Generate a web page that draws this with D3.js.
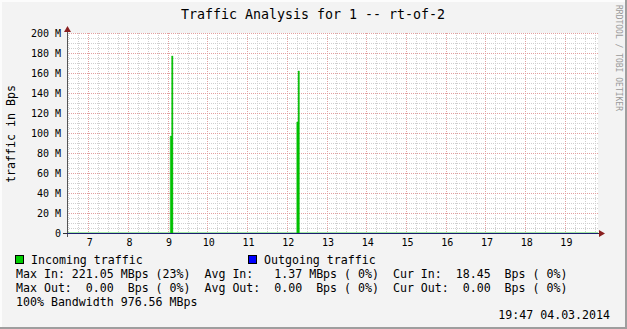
<!DOCTYPE html>
<html>
<head>
<meta charset="utf-8">
<script src="https://cdn.jsdelivr.net/npm/d3@7"></script>
<style>
  html, body { margin: 0; padding: 0; background: #f3f3f3; }
  svg { display: block; }
  text { font-family: "DejaVu Sans Mono", monospace; fill: #000; }
</style>
</head>
<body>
<svg id="chart"></svg>
<script>
const W = 627, H = 329

// time window of the graph
const timeStart = "2014-03-04 06:28"
const timeEnd = "2014-03-04 19:50"

// incoming traffic samples (step after), bytes per second
const inTimes = ["06:28", "09:04", "09:06", "09:08", "12:15", "12:17", "12:19", "19:50"]
const inValues = [0, 97e6, 177e6, 0, 111e6, 162e6, 0, 0]

// outgoing traffic (flat zero)
const outTimes = ["06:28", "19:50"]
const outValues = [0, 0]

const yTicks = [0, 20e6, 40e6, 60e6, 80e6, 100e6, 120e6, 140e6, 160e6, 180e6, 200e6]
const hourTicks = [7, 8, 9, 10, 11, 12, 13, 14, 15, 16, 17, 18, 19]

const title = "Traffic Analysis for 1 -- rt-of-2"
const yTitle = "traffic in Bps"
const legendItems = [
  { label: "Incoming traffic", color: "#00cc00", x: 15 },
  { label: "Outgoing traffic", color: "#0000ff", x: 248 },
]
const statLines = [
  "Max In: 221.05 MBps (23%)  Avg In:   1.37 MBps ( 0%)  Cur In:  18.45  Bps ( 0%)",
  "Max Out:  0.00  Bps ( 0%)  Avg Out:  0.00  Bps ( 0%)  Cur Out:  0.00  Bps ( 0%)",
  "100% Bandwidth 976.56 MBps",
]
const stamp = "19:47 04.03.2014"

const parse = d3.timeParse("%Y-%m-%d %H:%M")
const day = "2014-03-04 "

const svg = d3.select('#chart').attr('width', W).attr('height', H)

// frame with shading
svg.append('rect').attr('width', W).attr('height', H).attr('fill', '#f3f3f3')
svg.append('path').attr('d', `M0,0H${W}V2H2V${H}H0Z`).attr('fill', '#fcfcfc')
svg.append('path').attr('d', `M${W},0V${H}H0V${H-2}H${W-2}V0Z`).attr('fill', '#9e9e9e')

const plotL = 67, plotR = 598, plotT = 33, plotB = 233

const x = d3.scaleTime().domain([parse(timeStart), parse(timeEnd)]).range([plotL, plotR])
const y = d3.scaleLinear().domain([0, 200e6]).range([plotB, plotT])

svg.append('rect').attr('x', plotL).attr('y', plotT)
  .attr('width', plotR - plotL).attr('height', plotB - plotT).attr('fill', '#fff')

const grid = svg.append('g').attr('shape-rendering', 'crispEdges')

// minor grid: every 15 min, every 5 M
const minorTimes = d3.timeMinute.every(15).range(x.domain()[0], x.domain()[1])
grid.selectAll('.vminor').data(minorTimes).join('line')
  .attr('x1', d => Math.round(x(d)) + 0.5).attr('x2', d => Math.round(x(d)) + 0.5)
  .attr('y1', plotT).attr('y2', plotB)
  .attr('stroke', '#cfcfcf').attr('stroke-dasharray', '1,1')
const minorVals = d3.range(0, 200e6 + 1, 5e6)
grid.selectAll('.hminor').data(minorVals).join('line')
  .attr('x1', plotL).attr('x2', plotR)
  .attr('y1', d => Math.round(y(d)) + 0.5).attr('y2', d => Math.round(y(d)) + 0.5)
  .attr('stroke', '#cfcfcf').attr('stroke-dasharray', '1,1')

// major grid
const hourDates = hourTicks.map(h => parse(day + String(h).padStart(2, '0') + ":00"))
grid.selectAll('.vmajor').data(hourDates).join('line')
  .attr('x1', d => Math.round(x(d)) + 0.5).attr('x2', d => Math.round(x(d)) + 0.5)
  .attr('y1', plotT).attr('y2', plotB)
  .attr('stroke', '#e3a0a0').attr('stroke-dasharray', '1,1')
grid.selectAll('.hmajor').data(yTicks).join('line')
  .attr('x1', plotL).attr('x2', plotR)
  .attr('y1', d => Math.round(y(d)) + 0.5).attr('y2', d => Math.round(y(d)) + 0.5)
  .attr('stroke', '#e3a0a0').attr('stroke-dasharray', '1,1')

// incoming area
const inData = inTimes.map((t, i) => ({ t: parse(day + t), v: inValues[i] }))
const area = d3.area().x(d => x(d.t)).y0(y(0)).y1(d => y(d.v)).curve(d3.curveStepAfter)
svg.append('path').datum(inData).attr('d', area).attr('fill', '#00c000')
  .attr('stroke', '#00c000').attr('stroke-width', 0.4)

// axes
svg.append('line').attr('x1', plotL + 0.5).attr('x2', plotL + 0.5)
  .attr('y1', plotT - 2).attr('y2', plotB + 4).attr('stroke', '#555')
svg.append('line').attr('x1', plotL - 4).attr('x2', plotR + 2)
  .attr('y1', plotB + 0.5).attr('y2', plotB + 0.5).attr('stroke', '#333')

// outgoing line (zero) over axis
const outData = outTimes.map((t, i) => ({ t: parse(day + t), v: outValues[i] }))
const line = d3.line().x(d => x(d.t)).y(d => Math.round(y(d.v)) + 0.5)
svg.append('path').datum(outData).attr('d', line)
  .attr('fill', 'none').attr('stroke', '#1c1c70').attr('stroke-width', 1)

// arrows
svg.append('path').attr('d', `M${plotL + 0.5},${plotT - 7}L${plotL - 3},${plotT - 1}L${plotL + 4},${plotT - 1}Z`)
  .attr('fill', '#8a1f1f')
svg.append('path').attr('d', `M${plotR + 7},${plotB + 0.5}L${plotR + 1},${plotB - 3}L${plotR + 1},${plotB + 4}Z`)
  .attr('fill', '#8a1f1f')

// y tick labels
svg.append('g').selectAll('text').data(yTicks).join('text')
  .attr('x', 61).attr('y', d => y(d)).attr('dy', '0.36em')
  .attr('text-anchor', 'end').style('font-size', '10px')
  .text(d => d === 0 ? '0' : (d / 1e6) + ' M')

// x tick labels
svg.append('g').selectAll('text').data(hourDates).join('text')
  .attr('x', d => x(d) + 1.5).attr('y', 245.5)
  .attr('text-anchor', 'middle').style('font-size', '10px')
  .text((d, i) => hourTicks[i])

// title
svg.append('text').attr('x', 313).attr('y', 18.5).attr('text-anchor', 'middle')
  .style('font-size', '13.3px').text(title)

// y title
svg.append('text').attr('transform', 'translate(15,134) rotate(-90)')
  .attr('text-anchor', 'middle').style('font-size', '11.6px').text(yTitle)

// watermark
svg.append('text').attr('transform', 'translate(616,5) rotate(90)')
  .attr('text-anchor', 'start').style('font-size', '8px').style('fill', '#9a9a9a')
  .text('RRDTOOL / TOBI OETIKER')

// legend
const leg = svg.append('g')
legendItems.forEach(item => {
  leg.append('rect').attr('x', item.x + 0.5).attr('y', 255.5).attr('width', 8).attr('height', 8)
    .attr('fill', item.color).attr('stroke', '#000').attr('stroke-width', 1)
  leg.append('text').attr('x', item.x + 16).attr('y', 263.5)
    .style('font-size', '11.6px').style('white-space', 'pre').text(item.label)
})
statLines.forEach((s, i) => {
  leg.append('text').attr('x', 16).attr('y', 277.5 + i * 14)
    .style('font-size', '11.6px').style('white-space', 'pre').text(s)
})
svg.append('text').attr('x', 610).attr('y', 319).attr('text-anchor', 'end')
  .style('font-size', '11.6px').text(stamp)
</script>
</body>
</html>
